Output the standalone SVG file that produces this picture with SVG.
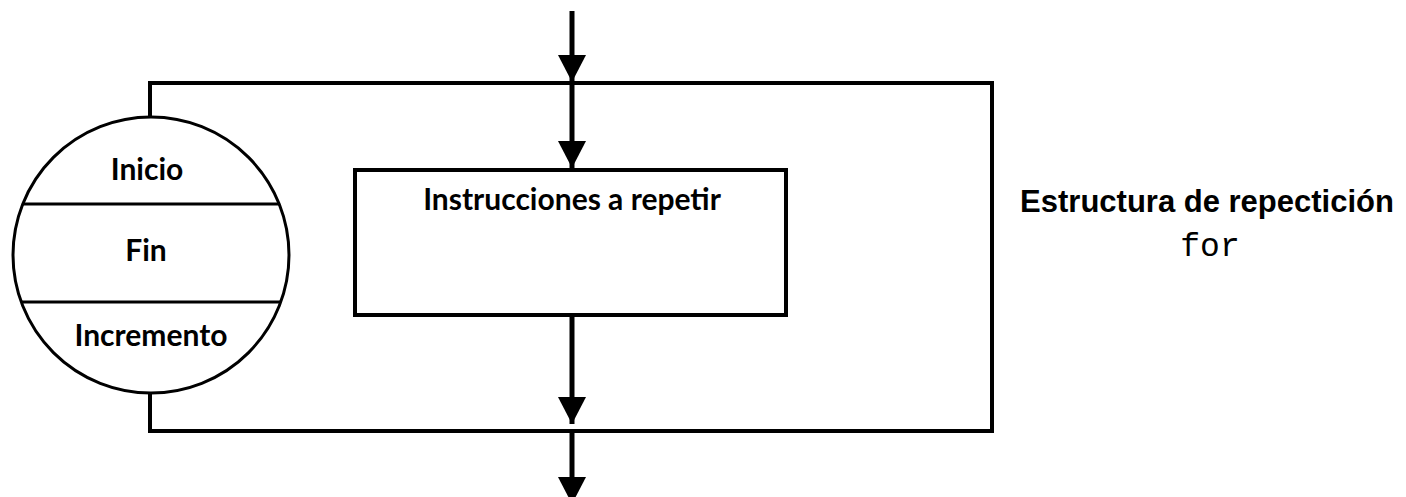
<svg xmlns="http://www.w3.org/2000/svg" width="1406" height="497" viewBox="0 0 1406 497">
  <style>
    .ln { fill: none; stroke: #000; stroke-width: 4; }
    .thin { fill: none; stroke: #000; stroke-width: 3; }
    .arr { fill: none; stroke: #000; stroke-width: 5; marker-end: url(#ah); }
    .lbl { font-family: Lato, "Open Sans", sans-serif; font-weight: bold; font-size: 30px; fill: #000; text-anchor: middle; }
    .title { font-family: "Liberation Sans", Arial, sans-serif; font-weight: bold; font-size: 31px; fill: #000; text-anchor: middle; }
    .code { font-family: "Liberation Mono", "Courier New", monospace; font-size: 33px; fill: #000; text-anchor: middle; }
  </style>
  <defs>
    <marker id="ah" markerUnits="userSpaceOnUse" markerWidth="27" markerHeight="28" refX="27" refY="14" orient="auto">
      <path d="M0,0 L27,14 L0,28 z" fill="#000"/>
    </marker>
  </defs>
  <rect width="1406" height="497" fill="#fff"/>
  <g id="loop-frame">
    <path class="ln" d="M150,117 V83 H992 V431 H150 V393"/>
  </g>
  <g id="for-header">
    <circle class="thin" cx="151" cy="255" r="138" fill="#fff"/>
    <line class="thin" x1="22" y1="204" x2="280" y2="204"/>
    <line class="thin" x1="22" y1="302" x2="280" y2="302"/>
    <text class="lbl" x="147" y="180">Inicio</text>
    <text class="lbl" x="146" y="261">Fin</text>
    <text class="lbl" x="151" y="346">Incremento</text>
  </g>
  <g id="body">
    <rect class="ln" x="355" y="170" width="431" height="145" fill="#fff"/>
    <text class="lbl" x="572" y="210">Instrucciones a repetir</text>
  </g>
  <g id="caption">
    <text class="title" x="1207" y="212">Estructura de repectición</text>
    <text class="code" x="1210" y="256">for</text>
  </g>
  <g id="connectors">
    <line class="arr" x1="572" y1="11" x2="572" y2="82"/>
    <line class="arr" x1="572" y1="85" x2="572" y2="168"/>
    <line class="arr" x1="572" y1="317" x2="572" y2="424"/>
    <line class="arr" x1="572" y1="433" x2="572" y2="504"/>
  </g>
</svg>
